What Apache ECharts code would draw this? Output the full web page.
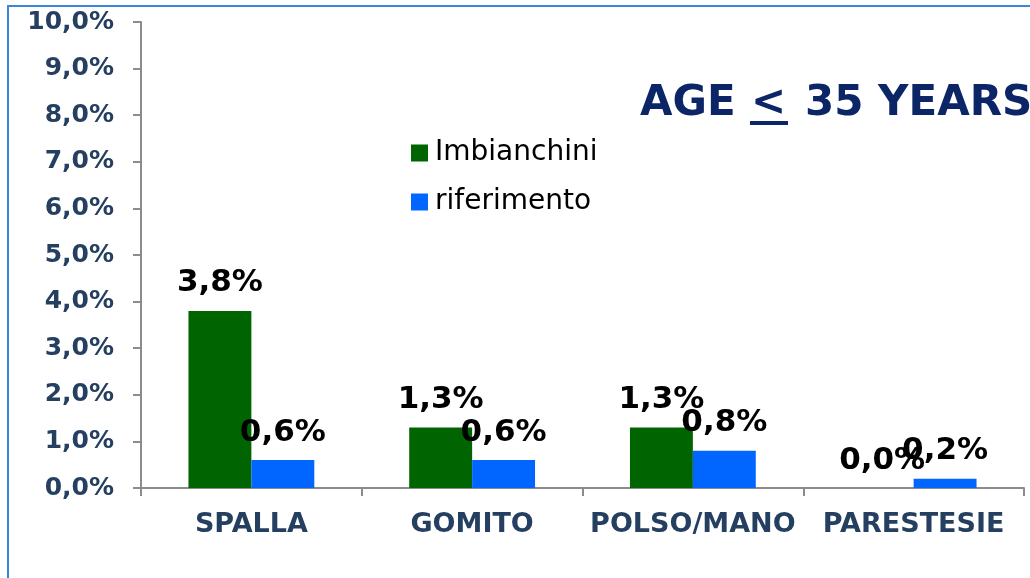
<!DOCTYPE html>
<html>
<head>
<meta charset="utf-8">
<script src="https://cdn.jsdelivr.net/npm/echarts@6/dist/echarts.min.js"></script>
<style>
  html, body { margin: 0; padding: 0; background: #ffffff; }
  #chart { width: 1030px; height: 578px; }
</style>
</head>
<body>
<div id="chart"></div>
<script>
// Disturbi per distretto, lavoratori con età <= 35 anni (valori in %)
const categories = ['SPALLA', 'GOMITO', 'POLSO/MANO', 'PARESTESIE'];
const imbianchini = [3.8, 1.3, 1.3, 0.0];
const riferimento = [0.6, 0.6, 0.8, 0.2];
const seriesNames = ['Imbianchini', 'riferimento'];
const yMin = 0, yMax = 10, yStep = 1;

const FONT = '"DejaVu Sans", Verdana, sans-serif';
const AXIS_TEXT = '#243F60';
const TITLE_COLOR = '#0B2566';
const pct = v => v.toFixed(1).replace('.', ',') + '%';

const chart = echarts.init(document.getElementById('chart'), null, { renderer: 'canvas' });

const labelStyle = {
  show: true,
  position: 'top',
  distance: 12,
  color: '#000000',
  fontFamily: FONT,
  fontWeight: 'bold',
  fontSize: 31,
  formatter: p => pct(p.value)
};

chart.setOption({
  animation: false,
  backgroundColor: '#ffffff',
  grid: { left: 141, right: 6, top: 22, bottom: 90, containLabel: false },
  legend: {
    orient: 'vertical',
    left: 406,
    top: 134,
    itemWidth: 17,
    itemHeight: 17,
    itemGap: 21,
    icon: 'rect',
    textStyle: { fontFamily: FONT, fontSize: 28, color: '#000000', padding: [0, 0, 0, 2] },
    data: seriesNames
  },
  xAxis: {
    type: 'category',
    data: categories,
    axisLine: { lineStyle: { color: '#8c8c8c', width: 2 } },
    axisTick: { show: true, interval: 0, length: 8, lineStyle: { color: '#8c8c8c', width: 2 } },
    axisLabel: { interval: 0, margin: 23, color: AXIS_TEXT, fontFamily: FONT, fontWeight: 'bold', fontSize: 27 }
  },
  yAxis: {
    type: 'value',
    min: yMin,
    max: yMax,
    interval: yStep,
    splitLine: { show: false },
    axisLine: { show: true, lineStyle: { color: '#8c8c8c', width: 2 } },
    axisTick: { show: true, length: 8, lineStyle: { color: '#8c8c8c', width: 2 } },
    axisLabel: {
      margin: 27,
      color: AXIS_TEXT,
      fontFamily: FONT,
      fontWeight: 'bold',
      fontSize: 25,
      formatter: v => pct(v)
    }
  },
  series: [
    {
      name: seriesNames[0],
      type: 'bar',
      data: imbianchini,
      barGap: '0%',
      barCategoryGap: '43%',
      itemStyle: { color: '#006400' },
      label: labelStyle
    },
    {
      name: seriesNames[1],
      type: 'bar',
      data: riferimento,
      itemStyle: { color: '#0066FF' },
      label: labelStyle
    }
  ],
  graphic: [
    {
      type: 'rect',
      shape: { x: 8, y: 6, width: 1100, height: 700 },
      style: { fill: null, stroke: '#3A86DA', lineWidth: 2 },
      silent: true
    },
    // Titolo: "AGE ≤ 35 YEARS" con il simbolo reso come "<" sottolineato
    {
      type: 'text', left: 640, top: 83,
      style: { text: 'AGE', fill: TITLE_COLOR, font: 'bold 42px ' + FONT }
    },
    {
      type: 'text', left: 751, top: 83,
      style: { text: '<', fill: TITLE_COLOR, font: 'bold 42px ' + FONT }
    },
    {
      type: 'rect',
      shape: { x: 750, y: 121, width: 38, height: 4 },
      style: { fill: TITLE_COLOR }
    },
    {
      type: 'text', left: 805, top: 83,
      style: { text: '35 YEARS', fill: TITLE_COLOR, font: 'bold 42px ' + FONT }
    }
  ]
});
</script>
</body>
</html>
